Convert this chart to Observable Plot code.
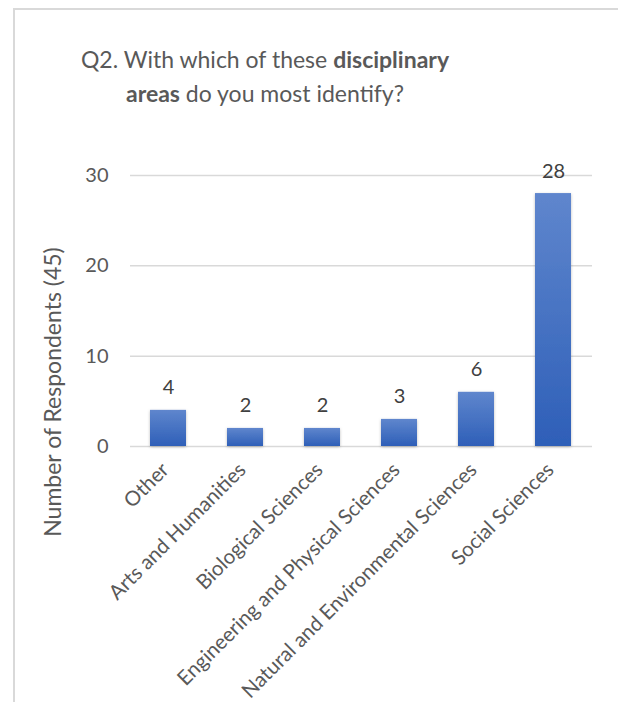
<!DOCTYPE html>
<html>
<head>
<meta charset="utf-8">
<script src="https://cdn.jsdelivr.net/npm/d3@7"></script>
<script src="https://cdn.jsdelivr.net/npm/@observablehq/plot@0.6"></script>
<style>
  body { margin: 0; background: #fff; }
  #wrap { position: relative; width: 618px; height: 702px; overflow: hidden; font-family: Lato, "Open Sans", sans-serif; }
  #frame { position: absolute; left: 13px; top: 8px; width: 700px; height: 800px; border-top: 2px solid #d9d9d9; border-left: 2px solid #d9d9d9; }
  #title { position: absolute; left: 65px; width: 400px; top: 42px; text-align: center; font-size: 23px; line-height: 34px; color: #595959; }
  #title b { font-weight: 700; }
  #chart { position: absolute; left: 0; top: 130px; }
</style>
</head>
<body>
<div id="wrap">
  <div id="frame"></div>
  <div id="title">Q2. With which of these <b>disciplinary</b><br><b>areas</b> do you most identify?</div>
  <div id="chart"></div>
</div>
<script>
const categories = ["Other", "Arts and Humanities", "Biological Sciences", "Engineering and Physical Sciences", "Natural and Environmental Sciences", "Social Sciences"];
const counts = [4, 2, 2, 3, 6, 28];
const yTicks = [0, 10, 20, 30];
const yLabel = "Number of Respondents (45)";

const data = categories.map((c, i) => ({category: c, count: counts[i]}));

const plot = Plot.plot({
  width: 618,
  height: 572,
  marginLeft: 130,
  marginRight: 26,
  marginTop: 45,
  marginBottom: 256,
  style: {background: "transparent", fontFamily: "Lato, 'Open Sans', sans-serif", color: "#595959", overflow: "visible"},
  x: {domain: categories, paddingInner: 0.53, paddingOuter: 0.265, label: null},
  y: {domain: [0, 30], label: null},
  marks: [
    Plot.ruleY(yTicks, {stroke: "#d9d9d9", strokeWidth: 1.5}),
    Plot.barY(data, {x: "category", y: "count", fill: "url(#barGrad)"}),
    Plot.text(data, {x: "category", y: "count", text: d => String(d.count), lineAnchor: "bottom", dy: -16, fontSize: 20, fill: "#404040"}),
    Plot.axisY(yTicks, {tickSize: 0, tickPadding: 22, fontSize: 20, fill: "#595959", label: null}),
    Plot.axisX({tickSize: 0, tickPadding: 20, tickRotate: -45, fontSize: 20.5, fill: "#595959", label: null, dx: -3}),
    Plot.text([yLabel], {frameAnchor: "left", text: d => d, rotate: -90, textAnchor: "middle", dx: -77, dy: 81, fontSize: 23, fill: "#595959"})
  ]
});

const svg = d3.select(plot);
const defs = svg.insert("defs", ":first-child");
const g = defs.append("linearGradient").attr("id", "barGrad").attr("x1", 0).attr("y1", 0).attr("x2", 0).attr("y2", 1);
g.append("stop").attr("offset", "0%").attr("stop-color", "#5f86cd");
g.append("stop").attr("offset", "100%").attr("stop-color", "#2e5fb8");
const f = defs.append("filter").attr("id", "barShadow").attr("x", "-30%").attr("y", "-30%").attr("width", "160%").attr("height", "160%");
f.append("feDropShadow").attr("dx", 0).attr("dy", 1).attr("stdDeviation", 1.5).attr("flood-color", "#000").attr("flood-opacity", 0.25);
svg.selectAll('g[aria-label="bar"] rect').attr("filter", "url(#barShadow)");

document.getElementById("chart").appendChild(plot);
</script>
</body>
</html>
